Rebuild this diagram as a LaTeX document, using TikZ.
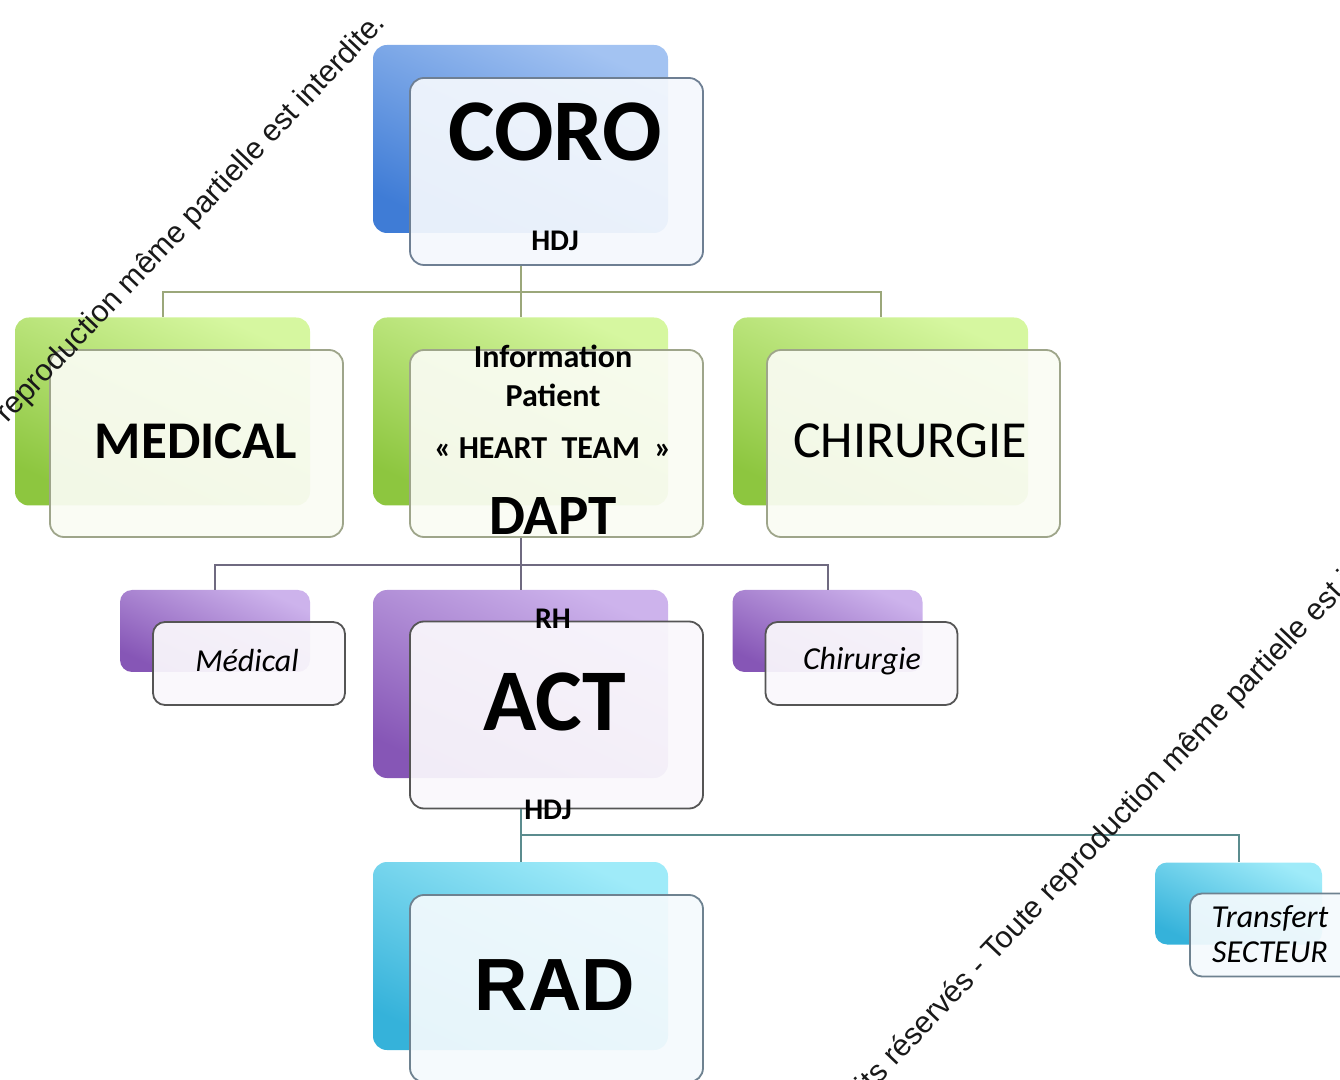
\documentclass[tikz,border=0pt]{standalone}
\usepackage{fontspec}
\setmainfont{Carlito}
\newfontfamily\arialfont{Liberation Sans}

\definecolor{bluelt}{HTML}{A3C3F2}
\definecolor{bluedk}{HTML}{3F7CD6}
\definecolor{greenlt}{HTML}{D6F7A0}
\definecolor{greendk}{HTML}{8DC63F}
\definecolor{purplelt}{HTML}{CDB3EC}
\definecolor{purpledk}{HTML}{8656B6}
\definecolor{cyanlt}{HTML}{9FEBF9}
\definecolor{cyandk}{HTML}{35B2DA}
\definecolor{corobd}{HTML}{6E7F93}
\definecolor{greenbd}{HTML}{9EA58A}
\definecolor{purplebd}{HTML}{555555}
\definecolor{cyanbd}{HTML}{6E8290}
\definecolor{greenln}{HTML}{9BA77A}
\definecolor{purpleln}{HTML}{6F6A80}
\definecolor{cyanln}{HTML}{5B8C8E}
\definecolor{corofr}{HTML}{F4F8FD}
\definecolor{greenfr}{HTML}{FAFCF3}
\definecolor{purplefr}{HTML}{FAF8FC}
\definecolor{cyanfr}{HTML}{F4FAFD}

\begin{document}
\begin{tikzpicture}
[x=0.5pt, y=-0.5pt, every node/.style={inner sep=0pt},
 bigback/.style={rounded corners=7pt, minimum width=147.5pt, minimum height=94pt},
 bigfront/.style={rounded corners=7pt, minimum width=146.5pt, minimum height=93.5pt, fill opacity=0.93, line width=0.9pt},
 smallback/.style={rounded corners=6pt, minimum width=95pt, minimum height=41pt},
 smallfront/.style={rounded corners=6pt, minimum width=96pt, minimum height=41.5pt, fill opacity=0.93, line width=0.9pt},
 blueshade/.style={top color=bluelt, bottom color=bluedk, shading angle=-25},
 greenshade/.style={top color=greenlt, bottom color=greendk, shading angle=-25},
 purpleshade/.style={top color=purplelt, bottom color=purpledk, shading angle=-25},
 cyanshade/.style={top color=cyanlt, bottom color=cyandk, shading angle=-25},
 huge/.style={font=\bfseries\fontsize{44}{48}\selectfont},
 mid/.style={font=\bfseries\fontsize{26.5}{28}\selectfont},
 tag/.style={font=\bfseries\fontsize{16}{18}\selectfont},
 ital/.style={font=\itshape\fontsize{16}{18}\selectfont},
 link/.style={line width=1pt},
 wm/.style={font=\arialfont\fontsize{15.2}{17}\selectfont, text=black!90, rotate=46.5}]
\useasboundingbox (0,0) rectangle (1340,1080);

% top
\node (corobk) [bigback, blueshade] at (520.5,139) {};
\node (coro) [bigfront, fill=corofr, draw=corobd] at (556.5,171.5) {};
\node (corotxt) [huge] at (555,132) {CORO};
\node (corohdj) [tag, font=\bfseries\fontsize{15}{17}\selectfont] at (555,241) {HDJ};

% green row
\node (medbk) [bigback, greenshade] at (162.5,411.5) {};
\node (med) [bigfront, fill=greenfr, draw=greenbd] at (196.5,443.5) {};
\node (medtxt) [mid] at (196,441) {MEDICAL};
\node (infobk) [bigback, greenshade] at (520.5,411.5) {};
\node (info) [bigfront, fill=greenfr, draw=greenbd] at (556.5,443.5) {};
\node (info1) [tag] at (553,356) {Information};
\node (info2) [tag] at (553,395) {Patient};
\node (info3) [tag] at (553,448) {«~HEART~~TEAM~~»};
\node (dapt) [font=\bfseries\fontsize{28.5}{30}\selectfont] at (553,516) {DAPT};
\node (chirbk) [bigback, greenshade] at (880.5,411.5) {};
\node (chir) [bigfront, fill=greenfr, draw=greenbd] at (913.5,443.5) {};
\node (chirtxt) [font=\fontsize{26}{30}\selectfont] at (910,441) {CHIRURGIE};

% purple row
\node (medbk2) [smallback, purpleshade] at (215,631) {};
\node (med2) [smallfront, fill=purplefr, draw=purplebd] at (249,663.5) {};
\node (med2txt) [ital] at (247,661) {Médical};
\node (actbk) [bigback, purpleshade] at (520.5,684) {};
\node (act) [bigfront, fill=purplefr, draw=purplebd] at (556.5,715) {};
\node (acttxt) [huge] at (555,702) {ACT};
\node (rh) [tag, font=\bfseries\fontsize{15}{17}\selectfont] at (553,619) {RH};
\node (acthdj) [tag, font=\bfseries\fontsize{15}{17}\selectfont] at (548,810) {HDJ};
\node (chirbk2) [smallback, purpleshade] at (827.5,631) {};
\node (chir2) [smallfront, fill=purplefr, draw=purplebd] at (861.5,663.5) {};
\node (chir2txt) [ital] at (862,661) {Chirurgie};

% cyan row
\node (radbk) [bigback, cyanshade] at (520.5,956) {};
\node (rad) [bigfront, fill=cyanfr, draw=cyanbd] at (556.5,988.5) {};
\node (radtxt) [font=\arialfont\bfseries\fontsize{37}{40}\selectfont] at (555,985) {RAD};
\node (transbk) [smallback, cyanshade, minimum width=83.5pt] at (1238.5,903.5) {};
\node (trans) [smallfront, fill=cyanfr, draw=cyanbd] at (1286,935) {};
\node (trans1) [ital] at (1270,918) {Transfert};
\node (trans2) [ital] at (1270,952) {SECTEUR};

% links
\coordinate (bus1) at (0,292);
\coordinate (bus2) at (0,565);
\coordinate (bus3) at (0,835);
\draw [link, draw=greenln] (corobk.south |- coro.south) -- (infobk.north);
\draw [link, draw=greenln] (medbk.north) |- (chirbk.north |- bus1) -- (chirbk.north);
\draw [link, draw=purpleln] (infobk.south |- info.south) -- (actbk.north);
\draw [link, draw=purpleln] (medbk2.north) |- (chirbk2.north |- bus2) -- (chirbk2.north);
\draw [link, draw=cyanln] (actbk.south |- act.south) -- (radbk.north);
\draw [link, draw=cyanln] (radbk.north |- bus3) -| (transbk.north);

% watermark
\node (wm1) [wm, anchor=base east] at (387,24) {Toute reproduction même partielle est interdite.};
\node (wm2) [wm, anchor=base west] at (994,963) {\llap{Tous droits réservés - }Toute reproduction même partielle est interdite.};
\end{tikzpicture}
\end{document}
